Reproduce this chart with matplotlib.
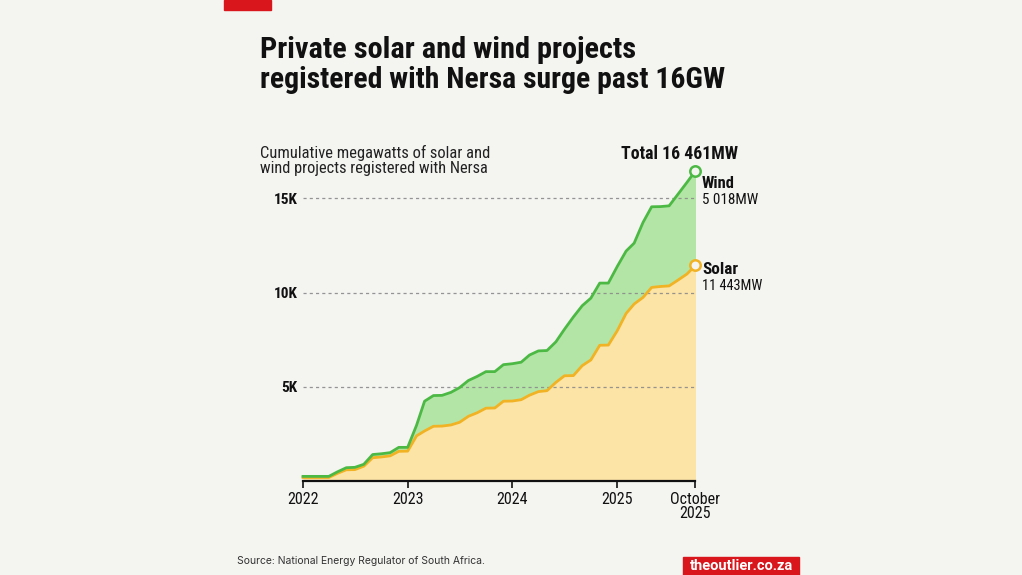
import numpy as np
import pandas as pd
import matplotlib
matplotlib.use("Agg")
import matplotlib.pyplot as plt
from matplotlib import font_manager as fm
from matplotlib.patches import Rectangle

# ---------------- data ----------------
months = pd.date_range("2022-01-01", "2025-10-01", freq="MS")
solar_mw = [180, 180, 180, 180, 400, 590, 600, 780, 1230, 1270, 1330, 1570, 1580,
            2390, 2650, 2900, 2910, 2970, 3110, 3430, 3620, 3860, 3870, 4230, 4240,
            4310, 4550, 4740, 4790, 5230, 5580, 5590, 6120, 6420, 7200, 7210, 7970,
            8890, 9390, 9740, 10270, 10320, 10350, 10660, 10980, 11443]
wind_mw = [60, 60, 60, 60, 80, 110, 120, 100, 170, 170, 170, 210, 200,
           560, 1580, 1630, 1630, 1730, 1840, 1900, 1930, 1940, 1930, 1940, 1980,
           1990, 2130, 2160, 2130, 2150, 2470, 3110, 3180, 3280, 3300, 3290, 3410,
           3310, 3230, 3980, 4280, 4240, 4250, 4560, 4860, 5018]
x_tick_dates = ["2022-01-01", "2023-01-01", "2024-01-01", "2025-01-01", "2025-10-01"]
x_tick_labels = ["2022", "2023", "2024", "2025", "October\n2025"]
y_ticks = [5000, 10000, 15000]
y_tick_labels = ["5K", "10K", "15K"]

title_lines = ["Private solar and wind projects",
               "registered with Nersa surge past 16GW"]
subtitle_lines = ["Cumulative megawatts of solar and",
                  "wind projects registered with Nersa"]
total_text = "Total 16 461MW"
wind_name, wind_value = "Wind", "5 018MW"
solar_name, solar_value = "Solar", "11 443MW"
source_text = "Source: National Energy Regulator of South Africa."
brand_text = "theoutlier.co.za"

# ---------------- style ----------------
BG = "#f4f4f1"
GREEN = "#4cb944"
GREEN_FILL = "#b3e6a6"
YELLOW = "#f1b224"
YELLOW_FILL = "#fce3a6"
RED = "#d9161c"
INK = "#111111"

avail = sorted({f.name for f in fm.fontManager.ttflist})
COND = None
for pref in ["Roboto Condensed", "Fira Sans Condensed", "Open Sans Condensed",
             "Liberation Sans Narrow", "Noto Sans Condensed", "DejaVu Sans Condensed"]:
    if pref in avail:
        COND = pref
        break
if COND is None:
    cands = [n for n in avail if ("Condensed" in n or "Narrow" in n)]
    COND = cands[0] if cands else "Roboto"
BODY = "Roboto" if "Roboto" in avail else "DejaVu Sans"
SANS = "Inter" if "Inter" in avail else "DejaVu Sans"

W, H = 1022, 575
fig = plt.figure(figsize=(W / 100, H / 100), dpi=100)
fig.patch.set_facecolor(BG)

to_fit = []


def ptext(x, y, s, width=None, **kw):
    t = fig.text(x / W, 1 - y / H, s, **kw)
    if width:
        to_fit.append((t, width))
    return t


# top red tab
fig.patches.append(Rectangle((224 / W, 1 - 10 / H), 47 / W, 10 / H,
                             transform=fig.transFigure, color=RED, zorder=1))

# title
ptext(260, 58.5, title_lines[0], width=376, family=[COND, "DejaVu Sans"],
      fontweight="bold", color=INK, va="baseline", fontsize=20)
ptext(260, 88.5, title_lines[1], width=465, family=[COND, "DejaVu Sans"],
      fontweight="bold", color=INK, va="baseline", fontsize=20)

# subtitle
ptext(260, 158, subtitle_lines[0], width=228, family=[COND, "DejaVu Sans"],
      color="#222222", va="baseline", fontsize=11)
ptext(260, 172.5, subtitle_lines[1], width=230, family=[COND, "DejaVu Sans"],
      color="#222222", va="baseline", fontsize=11)

# total
ptext(738, 158.5, total_text, width=117, family=[COND, "DejaVu Sans"],
      fontweight="bold", color=INK, va="baseline", ha="right", fontsize=13)

# ---------------- chart ----------------
solar = np.array(solar_mw, dtype=float)
wind = np.array(wind_mw, dtype=float)
total = solar + wind

y0_px, ypx_per_mw = 480.9, 0.01884
ymax = 17000
top_px = y0_px - ymax * ypx_per_mw
x_left, x_right = 303, 695.5
ax = fig.add_axes([x_left / W, 1 - y0_px / H, (x_right - x_left) / W,
                   (y0_px - top_px) / H])
ax.set_facecolor("none")

ax.fill_between(months, 0, solar, color=YELLOW_FILL, lw=0, zorder=1)
ax.fill_between(months, solar, total, color=GREEN_FILL, lw=0, zorder=1)

for yv in y_ticks:
    ax.axhline(yv, color="#8a8a8a", lw=0.9, ls=(0, (2.5, 2.5)), zorder=2, alpha=0.9)

ax.plot(months, solar, color=YELLOW, lw=2.0, zorder=3, solid_joinstyle="round",
        clip_on=False)
ax.plot(months, total, color=GREEN, lw=2.0, zorder=3, solid_joinstyle="round",
        clip_on=False)
ax.plot([months[-1]], [total[-1]], marker="o", ms=7.5, mfc=BG, mec=GREEN,
        mew=1.8, zorder=5, clip_on=False)
ax.plot([months[-1]], [solar[-1]], marker="o", ms=7.5, mfc=BG, mec=YELLOW,
        mew=1.8, zorder=5, clip_on=False)

ax.set_xlim(months[0], months[-1])
ax.set_ylim(0, ymax)

for s in ["top", "right", "left"]:
    ax.spines[s].set_visible(False)
ax.spines["bottom"].set_color("#111111")
ax.spines["bottom"].set_linewidth(1.6)
ax.spines["bottom"].set_zorder(6)

ax.set_xticks(pd.to_datetime(x_tick_dates))
ax.set_xticklabels(x_tick_labels, family=[COND, "DejaVu Sans"], fontsize=11.5,
                   color=INK, linespacing=0.95)
ax.tick_params(axis="x", direction="out", length=5, width=1.2, color="#111111",
               pad=3)

ax.set_yticks(y_ticks)
ax.set_yticklabels(y_tick_labels, family=[COND, "DejaVu Sans"], fontsize=11,
                   fontweight="bold", color=INK)
ax.tick_params(axis="y", length=0, pad=4)

# end labels
ptext(702, 188.5, wind_name, width=33, family=[COND, "DejaVu Sans"],
      fontweight="bold", color=INK, va="baseline", fontsize=11)
ptext(702, 204.5, wind_value, width=56, family=[COND, "DejaVu Sans"],
      color=INK, va="baseline", fontsize=11)
ptext(702, 274.5, solar_name, width=36, family=[COND, "DejaVu Sans"],
      fontweight="bold", color=INK, va="baseline", fontsize=11)
ptext(702, 290, solar_value, width=61, family=[COND, "DejaVu Sans"],
      color=INK, va="baseline", fontsize=11)

# footer
ptext(237, 561.5, source_text, width=248, family=[SANS, "DejaVu Sans"],
      color="#333333", va="center", fontsize=8)
fig.patches.append(Rectangle((683 / W, 1 - 575 / H), 116 / W, 18 / H,
                             transform=fig.transFigure, color=RED, zorder=1))
ptext(741, 566.5, brand_text, width=102, family=[BODY, "DejaVu Sans"],
      fontweight="bold", color="white", va="center", ha="center", fontsize=9)

renderer = fig.canvas.get_renderer()
for t, w in to_fit:
    for _ in range(3):
        bb = t.get_window_extent(renderer)
        if bb.width > 0:
            t.set_fontsize(t.get_fontsize() * w / bb.width)

fig.savefig("out.png", dpi=100, facecolor=BG)
